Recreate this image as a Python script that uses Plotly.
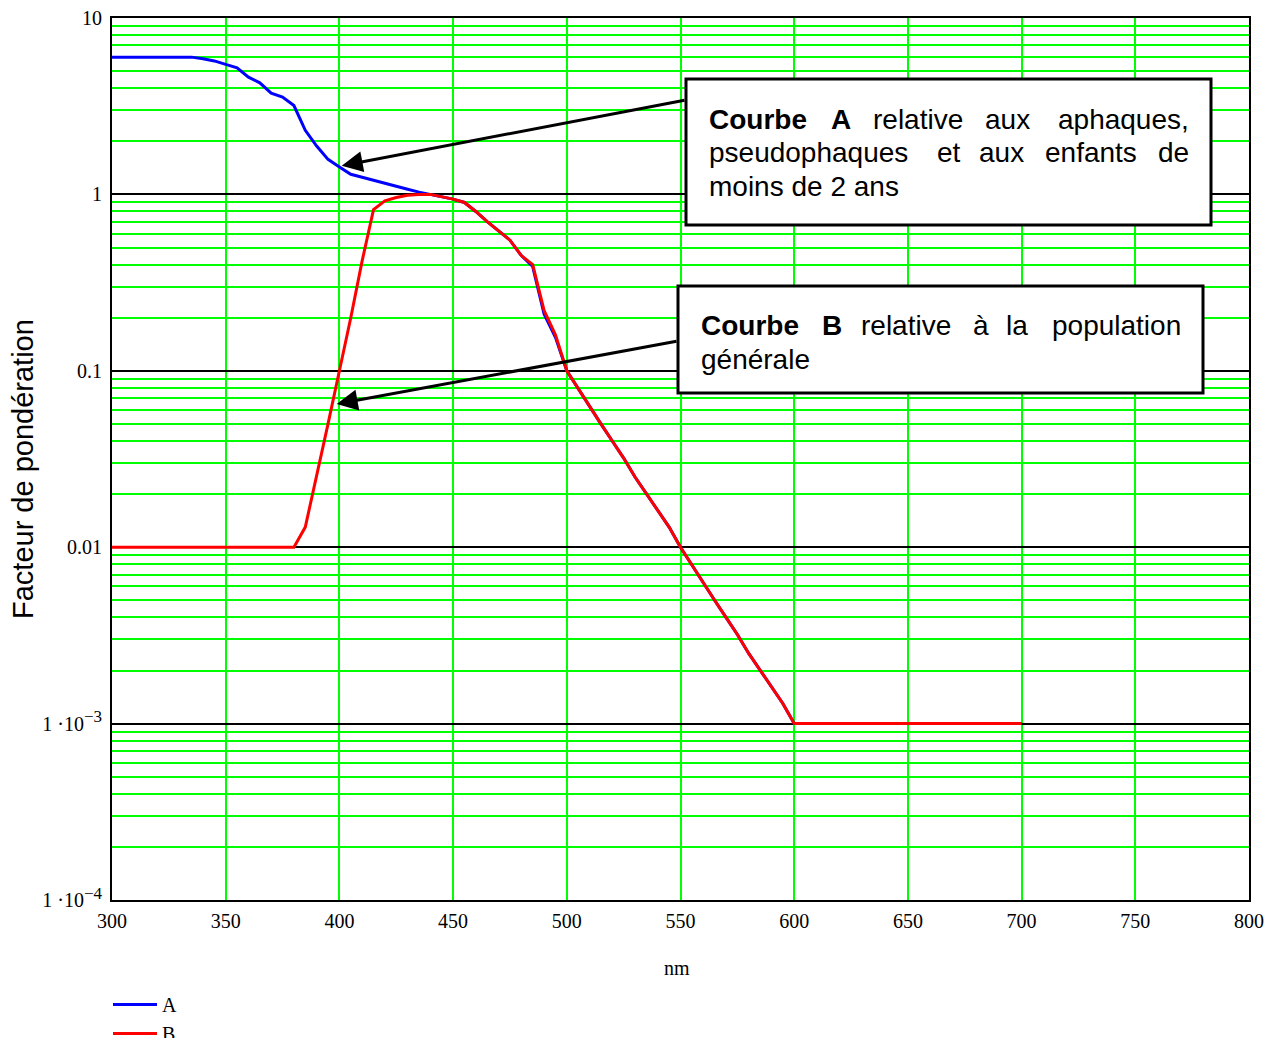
import numpy as np
import plotly.graph_objects as go

# ---------------- data ----------------
A_nm = [300, 335, 340, 345, 350, 355, 360, 365, 370, 375, 380, 385, 390, 395, 400,
        405, 410, 415, 420, 425, 430, 435, 440, 445, 450, 455, 460, 465, 470, 475,
        480, 485, 490, 495, 500, 505, 510, 515, 520, 525, 530, 535, 540, 545, 550,
        555, 560, 565, 570, 575, 580, 585, 590, 595, 600, 700]
A_val = [6.0, 6.0, 5.88, 5.71, 5.46, 5.22, 4.62, 4.29, 3.75, 3.56, 3.19, 2.31, 1.88, 1.58, 1.43,
         1.30, 1.25, 1.20, 1.15, 1.11, 1.07, 1.03, 1.00, 0.97, 0.94, 0.90, 0.80, 0.70, 0.62, 0.55,
         0.45, 0.39, 0.21, 0.155, 0.10, 0.079, 0.063, 0.050, 0.040, 0.032, 0.025, 0.020, 0.016, 0.013, 0.010,
         0.0079, 0.0063, 0.0050, 0.0040, 0.0032, 0.0025, 0.0020, 0.0016, 0.0013, 0.0010, 0.0010]

B_nm = [300, 380, 385, 390, 395, 400, 405, 410, 415, 420, 425, 430, 435, 440, 445,
        450, 455, 460, 465, 470, 475, 480, 485, 490, 495, 500, 505, 510, 515, 520,
        525, 530, 535, 540, 545, 550, 555, 560, 565, 570, 575, 580, 585, 590, 595,
        600, 700]
B_val = [0.01, 0.01, 0.013, 0.025, 0.05, 0.10, 0.20, 0.42, 0.82, 0.92, 0.96, 0.99, 1.00, 1.00, 0.97,
         0.94, 0.90, 0.80, 0.70, 0.62, 0.55, 0.45, 0.40, 0.22, 0.16, 0.10, 0.079, 0.063, 0.050, 0.040,
         0.032, 0.025, 0.020, 0.016, 0.013, 0.010, 0.0079, 0.0063, 0.0050, 0.0040, 0.0032, 0.0025, 0.0020, 0.0016, 0.0013,
         0.0010, 0.0010]

x_ticks = [300, 350, 400, 450, 500, 550, 600, 650, 700, 750, 800]
y_ticks = [1e-4, 1e-3, 0.01, 0.1, 1, 10]
SUP = "<sup><span style='font-size:17px'>−%d</span></sup>"
y_ticktext = ["1 ·10" + SUP % 4, "1 ·10" + SUP % 3, "0.01", "0.1", "1", "10"]
y_minor = [k * 10.0 ** e for e in range(-4, 1) for k in range(2, 10)]

SERIF = "Liberation Serif, Times New Roman, serif"
SANS = "Liberation Sans, Arial, sans-serif"

# plot area in pixels
L, R, T, B = 112, 1249, 18, 900
W, H = 1276, 1038


def px_x(p):
    return (p - L) / (R - L)


def px_y(p):
    return (B - p) / (B - T)


fig = go.Figure()
fig.add_trace(go.Scatter(x=A_nm, y=A_val, mode="lines", name="A",
                         line=dict(color="#0000FF", width=3)))
fig.add_trace(go.Scatter(x=B_nm, y=B_val, mode="lines", name="B",
                         line=dict(color="#FF0000", width=3)))

fig.update_layout(
    width=W, height=H,
    margin=dict(l=L, r=W - R, t=T, b=H - B, pad=0, autoexpand=False),
    paper_bgcolor="white", plot_bgcolor="white",
    font=dict(family=SERIF, size=20, color="black"),
    showlegend=True,
    legend=dict(x=px_x(108), y=px_y(985), xanchor="left", yanchor="top",
                bgcolor="rgba(0,0,0,0)", font=dict(family=SERIF, size=20, color="black"),
                itemwidth=44, tracegroupgap=0),
    xaxis=dict(range=[300, 800], tickvals=x_ticks, ticktext=[str(v) for v in x_ticks],
               showgrid=True, gridcolor="#00FF00", gridwidth=2, zeroline=False,
               showline=True, linecolor="black", linewidth=2, mirror=True,
               ticks="", ticklabelstandoff=2,
               tickfont=dict(family=SERIF, size=20, color="black")),
    yaxis=dict(type="log", range=[-4, 1], tickvals=y_ticks, ticktext=y_ticktext,
               showgrid=True, gridcolor="black", gridwidth=1.5, zeroline=False,
               showline=True, linecolor="black", linewidth=2, mirror=True,
               ticks="", ticklabelstandoff=4,
               tickfont=dict(family=SERIF, size=20, color="black"),
               minor=dict(tickvals=y_minor, showgrid=True, gridcolor="#00FF00",
                          gridwidth=2, ticks="")),
)

# boxes
shapes = [
    dict(type="rect", xref="paper", yref="paper", x0=px_x(686), x1=px_x(1211),
         y0=px_y(225), y1=px_y(79), line=dict(color="black", width=3), fillcolor="white",
         layer="above"),
    dict(type="rect", xref="paper", yref="paper", x0=px_x(678), x1=px_x(1203),
         y0=px_y(393), y1=px_y(286), line=dict(color="black", width=3), fillcolor="white",
         layer="above"),
]
fig.update_layout(shapes=shapes)

FS = 28
ann = []


def word(text, xp, yp, anchor="left"):
    ann.append(dict(text=text, xref="paper", yref="paper", x=px_x(xp), y=px_y(yp),
                    xanchor=anchor, yanchor="middle", showarrow=False,
                    font=dict(family=SANS, size=FS, color="black")))


# box A text (justified)
word("<b>Courbe</b>", 707, 119)
word("<b>A</b>", 829, 119)
word("relative", 871, 119)
word("aux", 983, 119)
word("aphaques,", 1191, 119, "right")
word("pseudophaques", 707, 153)
word("et", 935, 153)
word("aux", 977, 153)
word("enfants", 1043, 153)
word("de", 1191, 153, "right")
word("moins de 2 ans", 707, 187)
# box B text
word("<b>Courbe</b>", 699, 325)
word("<b>B</b>", 820, 325)
word("relative", 859, 325)
word("à", 971, 325)
word("la", 1004, 325)
word("population", 1183, 325, "right")
word("générale", 699, 359)

# arrows
ann.append(dict(x=px_x(341.7), y=px_y(165.7), xref="paper", yref="paper", text="",
                showarrow=True, ax=686 - 341.7, ay=100 - 165.7, axref="pixel", ayref="pixel",
                arrowhead=2, arrowsize=1.4, arrowwidth=3, arrowcolor="black", standoff=0))
ann.append(dict(x=px_x(336.7), y=px_y(404), xref="paper", yref="paper", text="",
                showarrow=True, ax=678 - 336.7, ay=341 - 404, axref="pixel", ayref="pixel",
                arrowhead=2, arrowsize=1.4, arrowwidth=3, arrowcolor="black", standoff=0))

# axis titles
ann.append(dict(text="Facteur de pondération", xref="paper", yref="paper",
                x=px_x(23), y=px_y(469), xanchor="center", yanchor="middle", textangle=-90,
                showarrow=False, font=dict(family=SANS, size=29, color="black")))
ann.append(dict(text="nm", xref="paper", yref="paper", x=px_x(677), y=px_y(968),
                xanchor="center", yanchor="middle", showarrow=False,
                font=dict(family=SERIF, size=20, color="black")))

fig.update_layout(annotations=ann)

fig.write_html("out.html", config={"displayModeBar": False},
               post_script="document.body.style.margin='0';document.body.style.overflow='hidden';")
